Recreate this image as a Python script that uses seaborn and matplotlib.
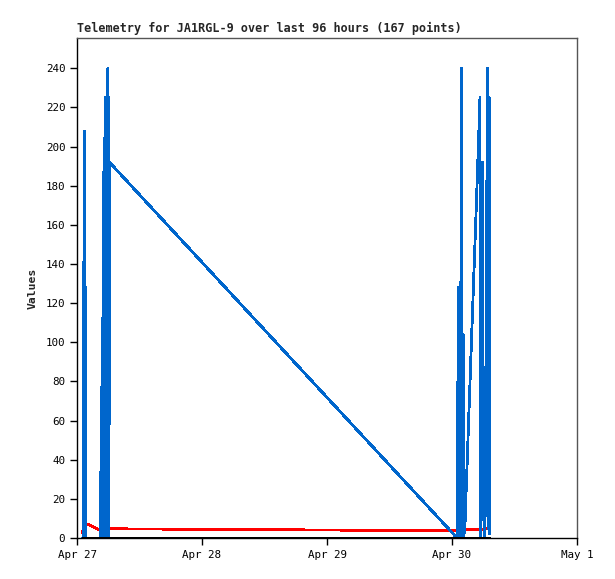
# telemetry chart for JA1RGL-9, last 96 hours
import pandas as pd
import matplotlib
matplotlib.use("Agg")
import matplotlib.pyplot as plt
import matplotlib.dates as mdates
from matplotlib.ticker import FuncFormatter
import seaborn as sns

# first burst, Apr 27
times_27 = ["01:06", "01:10", "01:24", "01:30", "01:36", "01:44", "01:52", "02:40",
            "03:30", "04:20", "04:30", "04:36", "04:40", "04:50", "04:54", "05:02",
            "05:06", "05:12", "05:16", "05:22", "05:26", "05:34", "05:38", "05:46",
            "05:50", "05:56", "06:00", "06:04", "06:08", "06:14"]
blue_27 = [0, 0, 208, 0, 128, 0, 0, 0,
           0, 0, 0, 38, 0, 112, 0, 187,
           0, 187, 0, 225, 0, 192, 0, 225,
           0, 240, 0, 225, 0, 192]
red_27 = [2.5, 4.6, 5.0, 5.5, 6.0, 6.5, 7.2, 6.2,
          5.2, 4.0, 3.8, 3.7, 4.6, 4.6, 4.6, 4.6,
          4.6, 4.6, 4.6, 4.6, 4.6, 4.6, 4.6, 4.6,
          4.6, 4.6, 4.7, 4.7, 4.7, 4.7]

# second burst, Apr 30
times_30 = ["00:58", "01:14", "01:18", "01:22", "01:26", "01:32", "01:36", "01:48",
            "01:52", "01:58", "02:02", "02:08", "02:14", "02:30", "02:40", "02:51",
            "03:02", "03:13", "03:24", "03:35", "03:46", "03:57", "04:08", "04:19",
            "04:30", "04:41", "04:52", "05:02", "05:12", "05:22", "05:26", "05:32",
            "05:38", "05:52", "05:58", "06:10", "06:20", "06:49", "06:54", "07:08",
            "07:14"]
blue_30 = [0, 128, 0, 104, 0, 104, 0, 240,
           0, 104, 0, 104, 0, 7, 21, 34,
           48, 62, 75, 89, 103, 116, 130, 144,
           157, 171, 185, 198, 211, 225, 0, 53,
           12, 192, 10, 9, 0, 240, 5, 225,
           2]
red_30 = [3.7, 4.4, 4.4, 4.4, 4.4, 4.4, 4.4, 4.4,
          4.4, 4.4, 4.4, 4.4, 4.4, 4.4, 4.4, 4.4,
          4.4, 4.4, 4.4, 4.4, 4.4, 4.4, 4.4, 4.4,
          4.4, 4.4, 4.4, 4.4, 4.4, 4.4, 4.4, 4.4,
          4.4, 4.6, 4.6, 4.8, 4.8, 5.0, 5.0, 5.2,
          5.2]

times = ["2024-04-27 " + t for t in times_27] + ["2024-04-30 " + t for t in times_30]
df = pd.DataFrame({
    "time": pd.to_datetime(times),
    "blue": blue_27 + blue_30,
    "red": red_27 + red_30,
})
df["black"] = 0.0

sns.set_style("ticks")
plt.rcParams["font.family"] = ["DejaVu Sans Mono"]

fig = plt.figure(figsize=(6.15, 5.79), dpi=100)
ax = fig.add_axes([77 / 615, 41 / 579, 500 / 615, 500 / 579])

# pixel-sharp lines like the original gd-style chart
sns.lineplot(data=df, x="time", y="red", color="#ff0000", linewidth=1.3,
             estimator=None, sort=False, antialiased=False, ax=ax)
sns.lineplot(data=df, x="time", y="blue", color="#0066cc", linewidth=1.3,
             estimator=None, sort=False, antialiased=False, ax=ax)
sns.lineplot(data=df, x="time", y="black", color="#000000", linewidth=1.4,
             estimator=None, sort=False, antialiased=False, ax=ax)

ax.set_xlim(pd.Timestamp("2024-04-27"), pd.Timestamp("2024-05-01"))
ax.set_ylim(0, 255.5)
ax.set_yticks(range(0, 241, 20))
ax.xaxis.set_major_locator(mdates.DayLocator())
ax.xaxis.set_major_formatter(FuncFormatter(
    lambda v, pos: f"{mdates.num2date(v):%b} {mdates.num2date(v).day}"))

ax.set_title("Telemetry for JA1RGL-9 over last 96 hours (167 points)",
             loc="left", fontsize=8.5, fontweight="bold", pad=4)
ax.set_xlabel("")
ax.set_ylabel("Values", fontsize=8.2, fontweight="bold", labelpad=6)
ax.tick_params(axis="both", direction="out", length=5, width=1,
               labelsize=7.8, colors="black")

for side in ["top", "right"]:
    ax.spines[side].set_color("#555555")
    ax.spines[side].set_linewidth(1)
for side in ["left", "bottom"]:
    ax.spines[side].set_color("black")
    ax.spines[side].set_linewidth(1)

fig.savefig("out.png", dpi=100)
